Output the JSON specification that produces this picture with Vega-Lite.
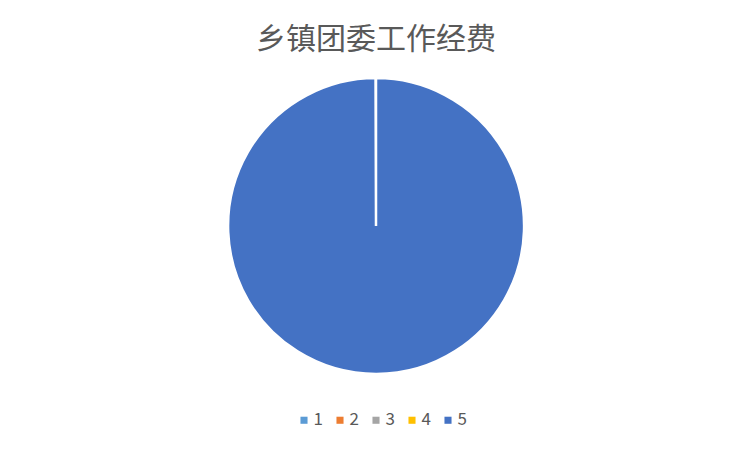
{
  "$schema": "https://vega.github.io/schema/vega-lite/v6.json",
  "width": 751,
  "height": 451,
  "padding": 0.5,
  "autosize": {"type": "none"},
  "background": "white",
  "config": {
    "view": {"stroke": "#D9D9D9", "strokeWidth": 1},
    "font": "Noto Sans CJK SC"
  },
  "title": {
    "text": "乡镇团委工作经费",
    "fontSize": 30,
    "fontWeight": "normal",
    "font": "Noto Sans CJK SC",
    "color": "#595959",
    "anchor": "middle",
    "offset": -54
  },
  "data": {
    "values": [
      {"category": "1", "value": 0},
      {"category": "2", "value": 0},
      {"category": "3", "value": 0},
      {"category": "4", "value": 0},
      {"category": "5", "value": 100}
    ]
  },
  "mark": {"type": "arc", "outerRadius": 148, "stroke": "white", "strokeWidth": 2.5},
  "encoding": {
    "theta": {"field": "value", "type": "quantitative", "stack": true, "scale": {"range": [0, 6.28]}},
    "order": {"field": "category", "type": "ordinal"},
    "color": {
      "field": "category",
      "type": "nominal",
      "scale": {
        "domain": ["1", "2", "3", "4", "5"],
        "range": ["#5B9BD5", "#ED7D31", "#A5A5A5", "#FFC000", "#4472C4"]
      },
      "legend": {
        "title": null,
        "orient": "none",
        "direction": "horizontal",
        "legendX": 295,
        "legendY": 411,
        "symbolType": "square",
        "symbolSize": 50,
        "symbolStrokeWidth": 0,
        "labelFontSize": 17,
        "labelColor": "#595959",
        "labelFont": "Noto Sans CJK SC",
        "columnPadding": 8,
        "labelOffset": 1
      }
    }
  }
}
